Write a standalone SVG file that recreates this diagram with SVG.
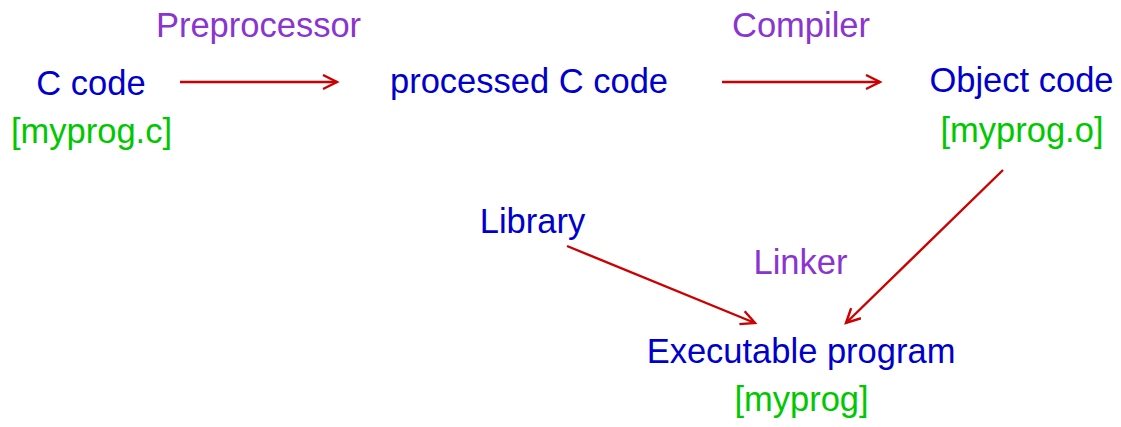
<svg xmlns="http://www.w3.org/2000/svg" width="1121" height="427" viewBox="0 0 1121 427">
<style>
text{font-family:"Liberation Sans",Arial,sans-serif;font-size:34.5px;text-anchor:middle}
.n{fill:#0000cc}
.f{fill:#00c800}
.t{fill:#8a35d0}
.c line{stroke:#cc0000;stroke-width:2.4;fill:none}
</style>
<defs>
<marker id="ah" markerWidth="20" markerHeight="18" refX="15" refY="8" orient="auto" markerUnits="userSpaceOnUse">
<path d="M1,1 L15,8 L1,15" fill="none" stroke="#cc0000" stroke-width="2.4"/>
</marker>
</defs>
<g class="c" id="connectors">
<line x1="180" y1="82" x2="337" y2="82" marker-end="url(#ah)"/>
<line x1="722" y1="82" x2="880" y2="82" marker-end="url(#ah)"/>
<line x1="567" y1="246" x2="755" y2="323" marker-end="url(#ah)"/>
<line x1="1003" y1="170" x2="846" y2="323" marker-end="url(#ah)"/>
</g>
<g id="labels">
<text class="t" x="258.5" y="37">Preprocessor</text>
<text class="t" x="801" y="37">Compiler</text>
<text class="t" x="800.5" y="274">Linker</text>
</g>
<g id="ccode">
<text class="n" x="91" y="95">C code</text>
<text class="f" x="91.5" y="143">[myprog.c]</text>
</g>
<g id="processed">
<text class="n" x="529" y="93">processed C code</text>
</g>
<g id="object">
<text class="n" x="1021.5" y="92">Object code</text>
<text class="f" x="1022" y="142">[myprog.o]</text>
</g>
<g id="library">
<text class="n" x="532.5" y="233">Library</text>
</g>
<g id="executable">
<text class="n" x="801" y="363">Executable program</text>
<text class="f" x="801.5" y="411">[myprog]</text>
</g>
</svg>
